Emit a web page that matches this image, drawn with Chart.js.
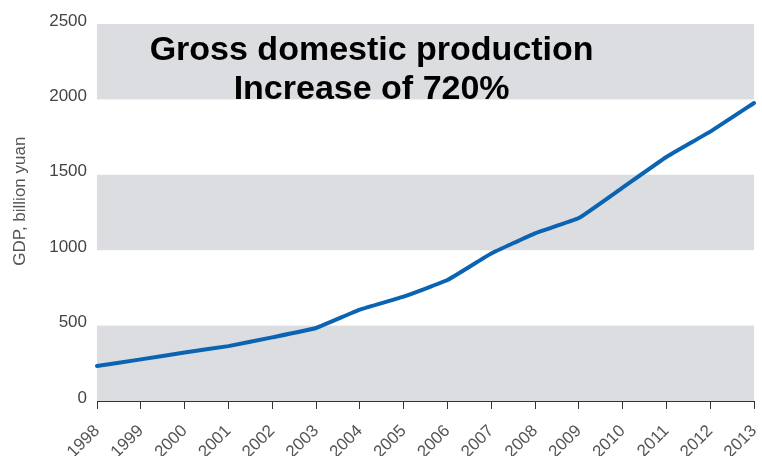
<!DOCTYPE html>
<html>
<head>
<meta charset="utf-8">
<script src="https://cdn.jsdelivr.net/npm/chart.js@4.4.0/dist/chart.umd.min.js"></script>
<style>
  html, body { margin: 0; padding: 0; background: #ffffff; }
  #wrap { width: 762px; height: 456px; position: relative; }
</style>
</head>
<body>
<div id="wrap"><canvas id="gdp"></canvas></div>
<script>
// Annual GDP, billion yuan
const years = ['1998','1999','2000','2001','2002','2003','2004','2005',
               '2006','2007','2008','2009','2010','2011','2012','2013'];
const gdp = [232, 276, 322, 364, 422, 484, 606, 692,
             802, 978, 1112, 1213, 1415, 1618, 1786, 1976];
const yTicks = [0, 500, 1000, 1500, 2000, 2500];
// shaded horizontal bands [from, to]
const bands = [[0, 500], [1000, 1500], [2000, 2500]];
const titleLines = ['Gross domestic production', 'Increase of 720%'];
const yAxisTitle = 'GDP, billion yuan';

const FONT = '"Liberation Sans", Arial, sans-serif';

const decorPlugin = {
  id: 'decor',
  beforeDatasetsDraw(chart) {
    const { ctx, chartArea, scales } = chart;
    ctx.save();
    ctx.fillStyle = '#dcdde0';
    bands.forEach(([a, b]) => {
      const y1 = scales.y.getPixelForValue(b);
      const y2 = scales.y.getPixelForValue(a);
      ctx.fillRect(chartArea.left, y1, chartArea.right - chartArea.left, y2 - y1);
    });
    ctx.restore();

    // vertical axis title
    ctx.save();
    ctx.fillStyle = '#555555';
    ctx.font = '17px ' + FONT;
    ctx.textAlign = 'center';
    ctx.textBaseline = 'middle';
    ctx.translate(20, chartArea.top + (chartArea.bottom - chartArea.top) * 0.47);
    ctx.rotate(-Math.PI / 2);
    ctx.fillText(yAxisTitle, 0, 0);
    ctx.restore();
  },
  afterDraw(chart) {
    const { ctx, chartArea } = chart;
    const cx = chartArea.left + (chartArea.right - chartArea.left) * 0.418;
    ctx.save();
    ctx.fillStyle = '#000000';
    ctx.font = 'bold 34px ' + FONT;
    ctx.textAlign = 'center';
    ctx.textBaseline = 'alphabetic';
    ctx.fillText(titleLines[0], cx, chartArea.top + 36);
    ctx.fillText(titleLines[1], cx, chartArea.top + 75);
    ctx.restore();
  }
};

new Chart(document.getElementById('gdp'), {
  type: 'line',
  data: {
    labels: years,
    datasets: [{
      data: gdp,
      borderColor: '#0b63b3',
      borderWidth: 4,
      pointRadius: 0,
      tension: 0.1,
      borderJoinStyle: 'round',
      borderCapStyle: 'round',
      fill: false
    }]
  },
  options: {
    responsive: true,
    maintainAspectRatio: false,
    animation: false,
    layout: { padding: { top: 24, right: 8, left: 0, bottom: 0 } },
    plugins: { legend: { display: false }, tooltip: { enabled: false } },
    scales: {
      x: {
        offset: false,
        grid: {
          display: true,
          drawOnChartArea: false,
          drawTicks: true,
          tickLength: 8,
          color: '#333333'
        },
        border: { display: true, color: '#333333', width: 1 },
        ticks: {
          autoSkip: false,
          minRotation: 45,
          maxRotation: 45,
          color: '#555555',
          padding: 12,
          font: { family: FONT, size: 17 }
        },
        afterFit(scale) {
          scale.height = 55;
          scale.paddingLeft = 0;
          scale.paddingRight = 0;
        }
      },
      y: {
        min: 0,
        max: 2500,
        afterBuildTicks(scale) { scale.ticks = yTicks.map(v => ({ value: v })); },
        grid: { display: false },
        border: { display: false },
        ticks: {
          color: '#444444',
          padding: 2,
          labelOffset: -3,
          callback: (v) => String(v),
          font: { family: FONT, size: 17 }
        },
        afterFit(scale) { scale.width = 97; }
      }
    }
  },
  plugins: [decorPlugin]
});
</script>
</body>
</html>
